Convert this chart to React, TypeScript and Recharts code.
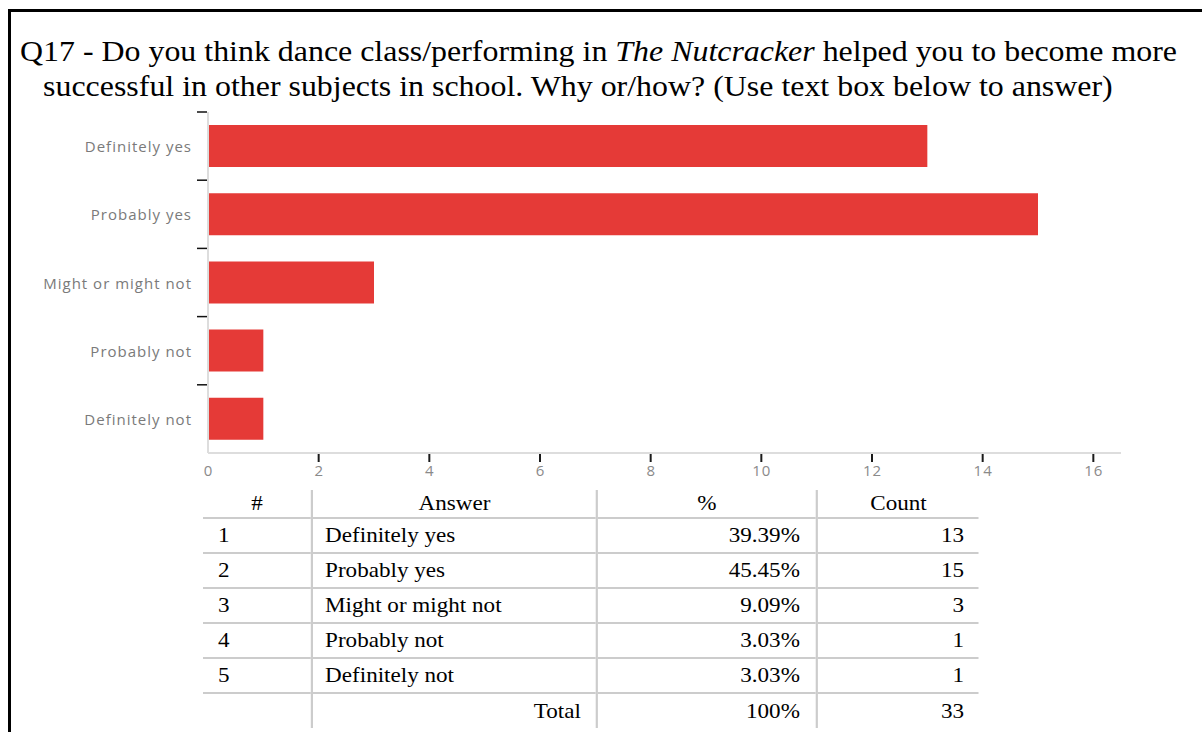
import { BarChart, Bar, XAxis, YAxis } from "recharts";

const answers = [
  "Definitely yes",
  "Probably yes",
  "Might or might not",
  "Probably not",
  "Definitely not"
];
const counts = [13, 15, 3, 1, 1];
const percents = ["39.39%", "45.45%", "9.09%", "3.03%", "3.03%"];
const xTicks = [0, 2, 4, 6, 8, 10, 12, 14, 16];
const totalPercent = "100%";
const totalCount = 33;

const chartData = answers.map((name, i) => ({ name, count: counts[i] }));

const BAR_RED = "#e53a37";
const PLOT_TOP = 112;
const PLOT_BOTTOM = 453;
const BAND = (PLOT_BOTTOM - PLOT_TOP) / answers.length;
const SANS = "'Open Sans', sans-serif";
const SERIF = "'Liberation Serif', 'Times New Roman', serif";
const STRETCH = 1.1; // the reference is drawn a bit wide

// label in the middle of the band, tick mark on the band's top edge
function CategoryTick(props: any) {
  const { x, y, payload } = props;
  return (
    <g>
      <line x1={197} x2={207} y1={y - BAND / 2} y2={y - BAND / 2} stroke="#111" strokeWidth={1.5} />
      <text
        x={x - 8}
        y={y}
        textAnchor="end"
        dominantBaseline="central"
        fill="#7a7a7a"
        fontSize={15}
        letterSpacing={1}
        fontFamily={SANS}
      >
        {payload.value}
      </text>
    </g>
  );
}

// no mark under 0, like the original
function ValueTick(props: any) {
  const { x, payload } = props;
  return (
    <g>
      {payload.value !== 0 && (
        <line x1={x} x2={x} y1={PLOT_BOTTOM + 1} y2={PLOT_BOTTOM + 9} stroke="#1a1a1a" strokeWidth={2} />
      )}
      <text
        x={x + 0.5}
        y={PLOT_BOTTOM + 17}
        textAnchor="middle"
        dominantBaseline="central"
        fill="#8a8a8a"
        fontSize={15}
        letterSpacing={1}
        fontFamily={SANS}
      >
        {payload.value}
      </text>
    </g>
  );
}

const cellBase = {
  fontFamily: SERIF,
  fontSize: 21,
  color: "#000",
  padding: 0,
  height: 33,
  lineHeight: "33px"
};

const headCell = { ...cellBase, fontWeight: 400, height: 27, lineHeight: "27px" };

export default function App() {
  const line = "2px solid #cccccc";
  const s = (v: number) => v / STRETCH;
  return (
    <div style={{ position: "relative", width: 1202, height: 732, overflow: "hidden", background: "#fff" }}>
      <style>{"body{margin:0;overflow:hidden}"}</style>
      <div
        style={{
          position: "absolute",
          left: 8,
          top: 9,
          width: 1194,
          height: 723,
          borderTop: "3px solid #000",
          borderLeft: "3px solid #000",
          boxSizing: "border-box"
        }}
      />
      <div
        style={{
          position: "absolute",
          left: 20,
          top: 34,
          fontFamily: SERIF,
          fontSize: 29,
          lineHeight: "35px",
          color: "#000",
          paddingLeft: 21,
          textIndent: -21,
          whiteSpace: "nowrap",
          transform: `scaleX(${STRETCH})`,
          transformOrigin: "0 0"
        }}
      >
        Q17 - Do you think dance class/performing in <i>The Nutcracker</i> helped you to become more
        <br />
        successful in other subjects in school. Why or/how? (Use text box below to answer)
      </div>

      <div style={{ position: "absolute", left: 0, top: 0 }}>
        <BarChart
          width={1202}
          height={500}
          data={chartData}
          layout="vertical"
          margin={{ top: PLOT_TOP, right: 81, bottom: 500 - PLOT_BOTTOM - 30, left: 0 }}
        >
          <XAxis
            type="number"
            domain={[0, 16.5]}
            ticks={xTicks}
            height={30}
            axisLine={{ stroke: "#dddddd", strokeWidth: 2 }}
            tickLine={false}
            tick={<ValueTick />}
            interval={0}
          />
          <YAxis
            type="category"
            dataKey="name"
            width={208}
            axisLine={{ stroke: "#dddddd", strokeWidth: 2 }}
            tickLine={false}
            tick={<CategoryTick />}
            interval={0}
          />
          <Bar dataKey="count" fill={BAR_RED} barSize={42} isAnimationActive={false} />
        </BarChart>
      </div>

      <table
        style={{
          position: "absolute",
          left: 203,
          top: 490,
          width: s(776),
          borderCollapse: "collapse",
          tableLayout: "fixed",
          transform: `scaleX(${STRETCH})`,
          transformOrigin: "0 0"
        }}
      >
        <colgroup>
          <col style={{ width: s(109) }} />
          <col style={{ width: s(285) }} />
          <col style={{ width: s(220) }} />
          <col style={{ width: s(162) }} />
        </colgroup>
        <thead>
          <tr style={{ borderBottom: line }}>
            <th style={{ ...headCell, borderRight: line }}>#</th>
            <th style={{ ...headCell, borderRight: line }}>Answer</th>
            <th style={{ ...headCell, borderRight: line }}>%</th>
            <th style={headCell}>Count</th>
          </tr>
        </thead>
        <tbody>
          {answers.map((a, i) => (
            <tr key={a} style={{ borderBottom: line }}>
              <td style={{ ...cellBase, paddingLeft: s(15), borderRight: line }}>{i + 1}</td>
              <td style={{ ...cellBase, paddingLeft: s(12), borderRight: line }}>{a}</td>
              <td style={{ ...cellBase, textAlign: "right", paddingRight: s(16), borderRight: line }}>{percents[i]}</td>
              <td style={{ ...cellBase, textAlign: "right", paddingRight: s(15) }}>{counts[i]}</td>
            </tr>
          ))}
          <tr>
            <td style={{ ...cellBase, height: 34, borderRight: line }}></td>
            <td style={{ ...cellBase, height: 34, textAlign: "right", paddingRight: s(15), borderRight: line }}>Total</td>
            <td style={{ ...cellBase, height: 34, textAlign: "right", paddingRight: s(16), borderRight: line }}>{totalPercent}</td>
            <td style={{ ...cellBase, height: 34, textAlign: "right", paddingRight: s(15) }}>{totalCount}</td>
          </tr>
        </tbody>
      </table>
    </div>
  );
}
